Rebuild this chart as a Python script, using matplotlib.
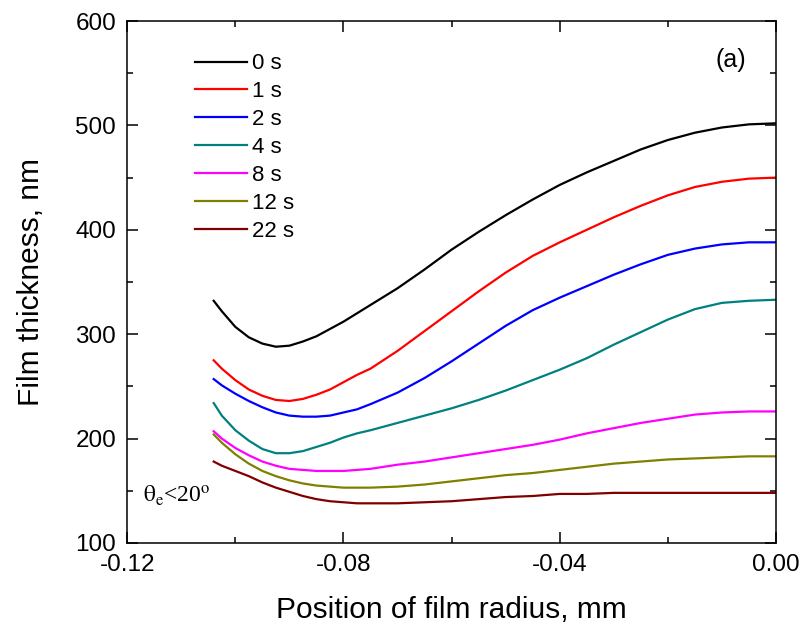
import numpy as np
import matplotlib
matplotlib.use("Agg")
import matplotlib.pyplot as plt

plt.rcParams["font.family"] = ["Liberation Sans", "DejaVu Sans"]
plt.rcParams["mathtext.fontset"] = "stix"

# position of film radius, mm
x = [-0.104, -0.1025, -0.100, -0.0975, -0.095, -0.0925, -0.090, -0.0875,
     -0.085, -0.0825, -0.080, -0.0775, -0.075, -0.070, -0.065, -0.060, -0.055,
     -0.050, -0.045, -0.040, -0.035, -0.030, -0.025, -0.020, -0.015, -0.010,
     -0.005, 0.000]

# film thickness, nm
t0 = [332, 322, 307, 297, 291, 288, 289, 293, 298, 305, 312, 320, 328, 344,
      362, 381, 398, 414, 429, 443, 455, 466, 477, 486, 493, 498, 501, 502]
t1 = [275, 267, 256, 247, 241, 237, 236, 238, 242, 247, 254, 261, 267, 284,
      303, 322, 341, 359, 375, 388, 400, 412, 423, 433, 441, 446, 449, 450]
t2 = [257, 251, 243, 236, 230, 225, 222, 221, 221, 222, 225, 228, 233, 244,
      258, 274, 291, 308, 323, 335, 346, 357, 367, 376, 382, 386, 388, 388]
t4 = [234, 222, 208, 198, 190, 186, 186, 188, 192, 196, 201, 205, 208, 215,
      222, 229, 237, 246, 256, 266, 277, 290, 302, 314, 324, 330, 332, 333]
t8 = [207, 200, 191, 184, 178, 174, 171, 170, 169, 169, 169, 170, 171, 175,
      178, 182, 186, 190, 194, 199, 205, 210, 215, 219, 223, 225, 226, 226]
t12 = [204, 196, 185, 176, 169, 164, 160, 157, 155, 154, 153, 153, 153, 154,
       156, 159, 162, 165, 167, 170, 173, 176, 178, 180, 181, 182, 183, 183]
t22 = [178, 174, 169, 164, 158, 153, 149, 145, 142, 140, 139, 138, 138, 138,
       139, 140, 142, 144, 145, 147, 147, 148, 148, 148, 148, 148, 148, 148]

series = [t0, t1, t2, t4, t8, t12, t22]
labels = ["0 s", "1 s", "2 s", "4 s", "8 s", "12 s", "22 s"]
colors = ["#000000", "#FF0000", "#0000FF", "#008080", "#FF00FF", "#808000", "#800000"]

fig = plt.figure(figsize=(8.05, 6.27), dpi=100)
ax = fig.add_axes([0.158, 0.134, 0.806, 0.8325])

for y, lab, c in zip(series, labels, colors):
    ax.plot(x, y, color=c, lw=1.6, label=lab)

ax.set_xlim(-0.12, 0.0)
ax.set_ylim(100, 600)
ax.set_xticks([-0.12, -0.08, -0.04, 0.00])
ax.set_xticks([-0.10, -0.06, -0.02], minor=True)
ax.set_xticklabels(["-0.12", "-0.08", "-0.04", "0.00"])
ax.set_yticks([100, 200, 300, 400, 500, 600])
ax.set_yticks([150, 250, 350, 450, 550], minor=True)

ax.tick_params(which="both", direction="in", top=True, right=True, width=1.1)
ax.tick_params(which="major", length=8, pad=8, labelsize=17.5)
ax.tick_params(which="minor", length=4)
for s in ax.spines.values():
    s.set_linewidth(1.1)

ax.set_xlabel("Position of film radius, mm", fontsize=21.5, labelpad=14)
ax.set_ylabel("Film thickness, nm", fontsize=21.5, labelpad=22)

ax.legend(loc="upper left", bbox_to_anchor=(0.091, 0.955), frameon=False,
          fontsize=16, handlelength=2.34, handletextpad=0.22, labelspacing=0.31,
          borderaxespad=0)

ax.text(0.931, 0.925, "(a)", transform=ax.transAxes, fontsize=18,
        ha="center", va="center")
ax.text(0.025, 0.09, r"$\mathrm{\theta_e}$<20$^\mathrm{o}$", transform=ax.transAxes,
        fontsize=17, family="Liberation Serif", ha="left", va="center")

fig.savefig("out.png", dpi=100)
